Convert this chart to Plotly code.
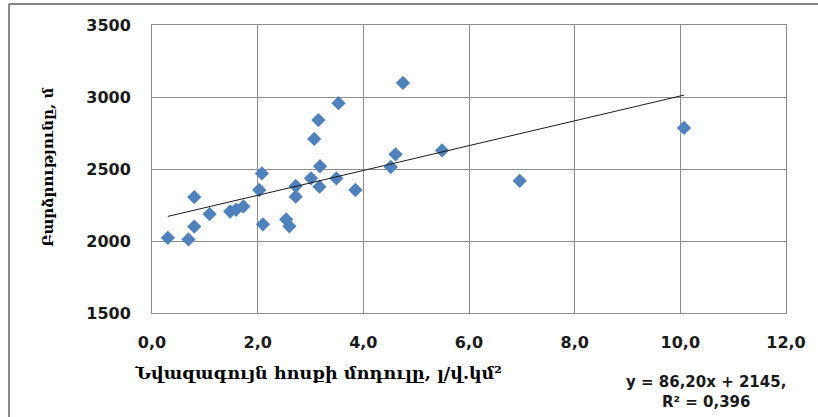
import plotly.graph_objects as go

# Data
x_vals = [0.30, 0.69, 0.80, 0.80, 1.09, 1.48, 1.59, 1.73, 2.03, 2.08, 2.10, 2.54, 2.60,
          2.72, 2.72, 3.01, 3.07, 3.15, 3.18, 3.17, 3.49, 3.53, 3.85, 4.52, 4.61, 4.75,
          5.49, 6.96, 10.07]
y_vals = [2022, 2011, 2305, 2100, 2187, 2205, 2217, 2240, 2354, 2469, 2116, 2150, 2102,
          2308, 2382, 2435, 2709, 2840, 2519, 2377, 2435, 2957, 2354, 2514, 2602, 3098,
          2629, 2418, 2785]

SLOPE = 86.20
INTERCEPT = 2145
EQ_TEXT = "y = 86,20x + 2145,<br>R² = 0,396"

x_ticks = [0, 2, 4, 6, 8, 10, 12]
x_tick_labels = ["0,0", "2,0", "4,0", "6,0", "8,0", "10,0", "12,0"]
y_ticks = [1500, 2000, 2500, 3000, 3500]
y_tick_labels = ["1500", "2000", "2500", "3000", "3500"]

x_title = "Նվազագույն հոսքի մոդուլը, լ/վ.կմ²"
y_title = "Բարձրությունը, մ"

trend_x = [min(x_vals), max(x_vals)]
trend_y = [SLOPE * v + INTERCEPT for v in trend_x]

fig = go.Figure()
fig.add_trace(go.Scatter(
    x=x_vals, y=y_vals, mode="markers",
    marker=dict(symbol="diamond", size=11, color="#4F81BD", line=dict(width=0)),
    showlegend=False, hoverinfo="x+y"))
fig.add_trace(go.Scatter(
    x=trend_x, y=trend_y, mode="lines",
    line=dict(color="#1a1a1a", width=1),
    showlegend=False, hoverinfo="skip"))

tick_font = dict(family="DejaVu Sans", size=16, color="#1a1a1a", weight="bold")

fig.update_xaxes(
    range=[0, 12], tickvals=x_ticks, ticktext=x_tick_labels,
    showgrid=True, gridcolor="#8c8c8c", gridwidth=1,
    showline=True, linecolor="#8c8c8c", linewidth=1, mirror=True,
    zeroline=False, ticks="outside", ticklen=15, tickcolor="rgba(0,0,0,0)",
    tickfont=tick_font)
fig.update_yaxes(
    range=[1500, 3500], tickvals=y_ticks, ticktext=y_tick_labels,
    showgrid=True, gridcolor="#8c8c8c", gridwidth=1,
    showline=True, linecolor="#8c8c8c", linewidth=1, mirror=True,
    zeroline=False, ticks="outside", ticklen=17, tickcolor="rgba(0,0,0,0)",
    tickfont=tick_font)

L, R, T, B = 152, 32, 25, 104
W, H = 818, 417
pw, ph = W - L - R, H - T - B

def px(xp):
    return (xp - L) / pw

def py(yp):
    return (H - B - yp) / ph

fig.add_annotation(x=px(318), y=py(373), xref="paper", yref="paper",
                   text=x_title, showarrow=False, xanchor="center", yanchor="middle",
                   font=dict(family="DejaVu Serif", size=17.5, color="#000000", weight="bold"))
fig.add_annotation(x=px(48), y=py(168), xref="paper", yref="paper",
                   text=y_title, showarrow=False, textangle=-90,
                   xanchor="center", yanchor="middle",
                   font=dict(family="DejaVu Serif", size=15, color="#000000", weight="bold"))
fig.add_annotation(x=px(706), y=py(392), xref="paper", yref="paper",
                   text=EQ_TEXT, showarrow=False, align="center",
                   xanchor="center", yanchor="middle",
                   font=dict(family="DejaVu Sans", size=15, color="#1a1a1a", weight="bold"))

# outer chart border (top and left visible)
fig.add_shape(type="line", xref="paper", yref="paper",
              x0=px(9), x1=px(830), y0=py(4), y1=py(4),
              line=dict(color="#888888", width=2))
fig.add_shape(type="line", xref="paper", yref="paper",
              x0=px(9), x1=px(9), y0=py(4), y1=py(430),
              line=dict(color="#888888", width=2))

fig.update_layout(
    width=W, height=H, margin=dict(l=L, r=R, t=T, b=B),
    paper_bgcolor="white", plot_bgcolor="white", showlegend=False)

fig.write_html("out.html", config={"displayModeBar": False},
               post_script="document.body.style.margin='0';document.body.style.overflow='hidden';")
